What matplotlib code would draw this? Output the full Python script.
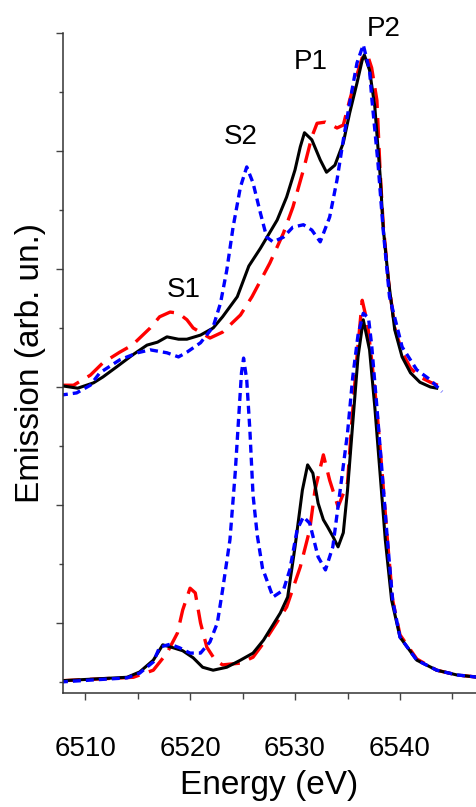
import numpy as np
import matplotlib
matplotlib.use('Agg')
import matplotlib.pyplot as plt

plt.rcParams['font.family'] = ['Liberation Sans', 'DejaVu Sans']

# upper set (drawn with a vertical offset)
up_black_e = [6507.8, 6509.3, 6510.8, 6511.7, 6513.0, 6514.5, 6515.9, 6516.9, 6517.8, 6518.9,
              6519.7, 6521.0, 6522.2, 6523.1, 6524.5, 6525.6, 6526.7, 6528.3, 6529.2, 6530.0,
              6530.5, 6530.9, 6531.6, 6532.4, 6533.0, 6533.8, 6534.6, 6535.2, 6535.9, 6536.4,
              6536.6, 6537.1, 6537.6, 6538.1, 6538.4, 6538.9, 6539.5, 6540.2, 6541.0, 6541.9,
              6542.9, 6543.5]
up_black_i = [0.02, -0.02, 0.07, 0.17, 0.34, 0.54, 0.71, 0.76, 0.85, 0.81,
              0.81, 0.88, 1.00, 1.19, 1.53, 2.05, 2.35, 2.83, 3.22, 3.68,
              4.07, 4.31, 4.19, 3.85, 3.64, 3.76, 4.14, 4.64, 5.15, 5.54,
              5.63, 5.37, 4.75, 3.60, 2.70, 1.81, 0.97, 0.51, 0.24, 0.08,
              0.00, -0.02]

up_red_e = [6507.6, 6508.9, 6510.5, 6511.7, 6513.3, 6514.5, 6516.2, 6517.1, 6518.1, 6518.9,
            6519.7, 6520.3, 6521.9, 6523.1, 6524.8, 6525.9, 6527.6, 6528.9, 6529.8, 6530.8,
            6531.6, 6532.1, 6532.9, 6533.5, 6534.0, 6534.6, 6535.2, 6535.9, 6536.4, 6536.9,
            6537.3, 6537.8, 6538.1, 6538.4, 6538.9, 6539.5, 6540.2, 6541.0, 6541.9, 6542.9,
            6543.6]
up_red_i = [0.03, 0.03, 0.20, 0.41, 0.59, 0.71, 1.00, 1.19, 1.27, 1.25,
            1.14, 1.00, 0.83, 0.93, 1.22, 1.53, 2.10, 2.61, 3.05, 3.68,
            4.24, 4.47, 4.49, 4.44, 4.39, 4.44, 4.86, 5.29, 5.58, 5.63,
            5.41, 4.86, 3.68, 2.75, 1.81, 1.00, 0.59, 0.32, 0.17, 0.08,
            0.03]

up_blue_e = [6507.6, 6509.2, 6510.5, 6511.4, 6513.3, 6515.0, 6516.2, 6517.8, 6518.9, 6519.7,
             6521.0, 6522.2, 6522.9, 6523.5, 6524.1, 6524.8, 6525.4, 6526.0, 6526.7, 6527.3,
             6527.9, 6528.9, 6529.8, 6530.8, 6531.6, 6532.4, 6533.3, 6534.0, 6534.6, 6535.2,
             6535.9, 6536.5, 6537.1, 6537.3, 6537.9, 6538.4, 6539.0, 6540.2, 6541.6, 6542.9,
             6544.0]
up_blue_i = [-0.14, -0.10, 0.03, 0.24, 0.46, 0.58, 0.63, 0.58, 0.51, 0.59,
             0.75, 1.02, 1.42, 1.98, 2.71, 3.39, 3.73, 3.46, 2.95, 2.54,
             2.46, 2.54, 2.71, 2.75, 2.66, 2.46, 2.88, 3.51, 4.19, 4.81,
             5.49, 5.80, 5.37, 4.92, 3.80, 2.66, 1.53, 0.68, 0.29, 0.12,
             -0.08]

# lower set
lo_black_e = [6507.6, 6514.0, 6515.2, 6516.5, 6517.4, 6518.4, 6519.3, 6520.3, 6521.2, 6522.2,
              6523.5, 6524.8, 6526.0, 6527.0, 6528.6, 6529.3, 6530.0, 6530.7, 6531.2, 6531.7,
              6532.2, 6532.7, 6533.1, 6533.6, 6534.1, 6534.6, 6535.0, 6535.5, 6536.0, 6536.5,
              6537.1, 6537.6, 6538.1, 6538.6, 6539.2, 6540.0, 6541.6, 6543.5, 6545.4, 6548.0]
lo_black_i = [0.02, 0.08, 0.17, 0.37, 0.63, 0.58, 0.53, 0.41, 0.25, 0.20,
              0.25, 0.37, 0.49, 0.71, 1.17, 1.44, 2.29, 3.25, 3.68, 3.54,
              3.03, 2.75, 2.63, 2.47, 2.29, 2.53, 3.25, 4.39, 5.51, 6.14,
              5.63, 4.66, 3.54, 2.41, 1.39, 0.76, 0.37, 0.20, 0.12, 0.07]

lo_red_e = [6507.6, 6514.6, 6516.5, 6517.8, 6518.8, 6519.3, 6520.0, 6520.5, 6521.0, 6521.6,
            6522.4, 6523.1, 6524.8, 6526.0, 6527.0, 6529.2, 6530.5, 6531.4, 6531.9, 6532.7,
            6533.3, 6534.1, 6535.0, 6535.4, 6535.9, 6536.4, 6536.9, 6537.3, 6537.8, 6538.3,
            6538.8, 6539.3, 6540.0, 6541.6, 6543.5, 6545.4, 6548.0]
lo_red_i = [0.02, 0.08, 0.20, 0.49, 0.83, 1.22, 1.59, 1.51, 1.00, 0.59,
            0.37, 0.29, 0.32, 0.42, 0.66, 1.27, 1.95, 2.58, 3.25, 3.85,
            3.42, 2.97, 3.37, 4.39, 5.51, 6.47, 6.08, 5.46, 4.61, 3.54,
            2.41, 1.39, 0.80, 0.39, 0.20, 0.12, 0.07]

lo_blue_e = [6507.6, 6514.0, 6515.2, 6516.5, 6517.1, 6518.1, 6519.0, 6520.0, 6521.0, 6521.9,
             6522.6, 6523.1, 6523.8, 6524.3, 6524.6, 6524.9, 6525.1, 6525.4, 6525.7, 6526.0,
             6526.4, 6526.9, 6527.9, 6528.9, 6529.5, 6530.2, 6530.8, 6531.4, 6532.2, 6532.9,
             6533.6, 6534.3, 6535.0, 6535.5, 6536.0, 6536.5, 6537.0, 6537.3, 6537.8, 6538.3,
             6538.8, 6539.3, 6540.0, 6541.6, 6543.5, 6545.4, 6548.0]
lo_blue_i = [0.00, 0.07, 0.15, 0.34, 0.59, 0.64, 0.58, 0.49, 0.49, 0.68,
             1.00, 1.56, 2.41, 3.54, 4.39, 5.24, 5.49, 5.12, 4.27, 3.17,
             2.49, 1.93, 1.44, 1.56, 1.90, 2.58, 2.80, 2.69, 2.12, 1.90,
             2.29, 3.25, 4.22, 5.17, 5.88, 6.25, 6.17, 5.71, 4.66, 3.54,
             2.41, 1.39, 0.76, 0.37, 0.20, 0.12, 0.07]

upper_offset = 5.0

peak_names = ['S1', 'S2', 'P1', 'P2']
peak_e = [6519.4, 6524.8, 6531.5, 6538.4]
peak_y = [6.64, 9.24, 10.51, 11.07]

fig = plt.figure(figsize=(4.76, 8.07), dpi=100)
ax = fig.add_axes([0.1324, 0.1413, 0.8676, 0.8178])

red_style = dict(color='#ff0000', lw=2.4, dashes=(6.0, 3.0), solid_joinstyle='round')
blue_style = dict(color='#0000ff', lw=2.4, dashes=(2.4, 1.5), solid_joinstyle='round')
black_style = dict(color='black', lw=2.2, solid_joinstyle='round')

ax.plot(lo_red_e, lo_red_i, **red_style)
ax.plot(np.array(up_red_e), np.array(up_red_i) + upper_offset, **red_style)
ax.plot(lo_black_e, lo_black_i, **black_style)
ax.plot(np.array(up_black_e), np.array(up_black_i) + upper_offset, **black_style)
ax.plot(lo_blue_e, lo_blue_i, **blue_style)
ax.plot(np.array(up_blue_e), np.array(up_blue_i) + upper_offset, **blue_style)

for name, e, y in zip(peak_names, peak_e, peak_y):
    ax.text(e, y, name, fontsize=20, ha='center', va='center', clip_on=False)

ax.set_xlim(6507.9, 6547.24)
ax.set_ylim(-0.186, 11.0)

ax.set_xticks([6510, 6520, 6530, 6540])
ax.set_xticks([6515, 6525, 6535, 6545], minor=True)
ax.set_yticks([1, 3, 5, 7, 9, 11])
ax.set_yticks([0, 2, 4, 6, 8, 10], minor=True)
ax.set_yticklabels([])

ax.tick_params(axis='x', which='major', length=5, width=1, pad=26, labelsize=20, color='#444444')
ax.tick_params(axis='x', which='minor', length=4, width=1, color='#444444')
ax.tick_params(axis='y', which='major', length=5, width=1, color='#444444')
ax.tick_params(axis='y', which='minor', length=3, width=1, color='#444444')

for side in ['top', 'right']:
    ax.spines[side].set_visible(False)
for side in ['left', 'bottom']:
    ax.spines[side].set_linewidth(1.1)
    ax.spines[side].set_color('#333333')

ax.set_xlabel('Energy (eV)', fontsize=24, labelpad=6)
ax.set_ylabel('Emission (arb. un.)', fontsize=24, labelpad=4)

fig.savefig('out.png', dpi=100)
